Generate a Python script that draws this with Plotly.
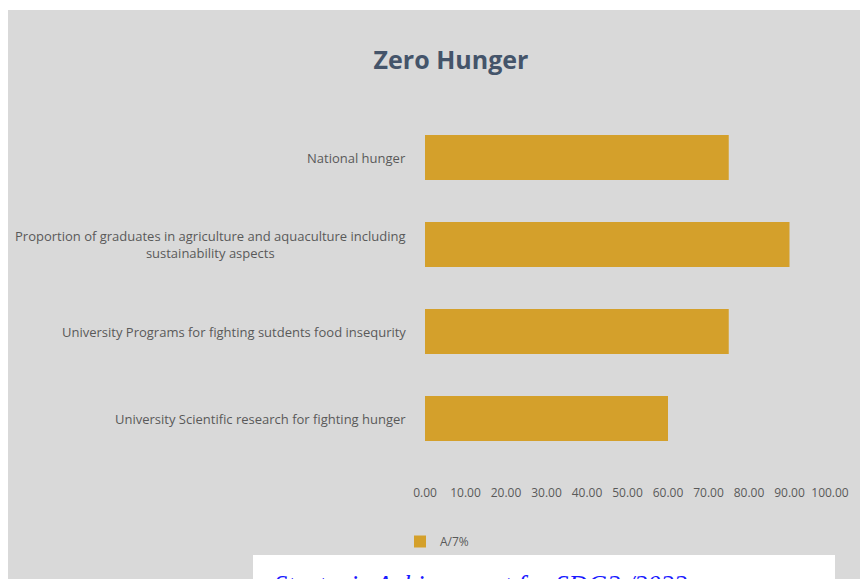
import plotly.graph_objects as go

categories = [
    "National hunger",
    "Proportion of graduates in agriculture and aquaculture including<br>sustainability aspects",
    "University Programs for fighting sutdents food insequrity",
    "University Scientific research for fighting hunger",
]
values = [75, 90, 75, 60]
series_name = "A/7%"
tick_vals = [0, 10, 20, 30, 40, 50, 60, 70, 80, 90, 100]

W, H = 860, 579
ML, MR, MT, MB = 425, 30, 114, 117
PW, PH = W - ML - MR, H - MT - MB

FONT = "Open Sans, sans-serif"
GOLD = "#D4A02B"
TXT = "#595959"

fig = go.Figure()
fig.add_trace(go.Bar(
    y=categories, x=values, orientation="h", name=series_name,
    marker=dict(color=GOLD, line=dict(width=0)), width=0.52,
    showlegend=True,
))

def px_x(px):
    return (px - ML) / PW

def px_y(py):
    return (H - MB - py) / PH

shapes = [
    dict(type="rect", xref="paper", yref="paper", x0=px_x(8), x1=px_x(W + 5),
         y0=px_y(H + 5), y1=px_y(10), fillcolor="#d9d9d9", line=dict(width=0), layer="below"),
    dict(type="rect", xref="paper", yref="paper", x0=px_x(253), x1=px_x(835),
         y0=px_y(H + 5), y1=px_y(555), fillcolor="white", line=dict(width=0), layer="above"),
]

annotations = []
for c in categories:
    annotations.append(dict(
        x=-17 / PW, xref="paper", y=c, yref="y", text=c, showarrow=False,
        xanchor="right", yanchor="middle", align="center",
        font=dict(family=FONT, size=13, color=TXT),
    ))
annotations.append(dict(
    x=px_x(272), xref="paper", y=px_y(568), yref="paper",
    text="<i>Strategic Achievement for SDG2 /2022</i>", showarrow=False,
    xanchor="left", yanchor="top",
    font=dict(family="Liberation Serif, Times New Roman, serif", size=26.5, color="#1a1aff"),
))

fig.update_layout(
    width=W, height=H,
    margin=dict(l=ML, r=MR, t=MT, b=MB),
    paper_bgcolor="white", plot_bgcolor="rgba(0,0,0,0)",
    title=dict(text="<b>Zero Hunger</b>", x=451 / W, xanchor="center",
               y=1 - 60 / H, yanchor="middle",
               font=dict(family=FONT, size=25, color="#44546A")),
    xaxis=dict(range=[0, 100], tickvals=tick_vals, tickformat=".2f",
               showgrid=False, zeroline=False, showline=False, ticks="",
               tickfont=dict(family=FONT, size=12, color=TXT), ticklabelstandoff=22),
    yaxis=dict(autorange="reversed", showticklabels=False, showgrid=False,
               zeroline=False, showline=False, ticks=""),
    legend=dict(orientation="h", x=px_x(400), xanchor="left", y=px_y(527), yanchor="top",
                bgcolor="rgba(0,0,0,0)", font=dict(family=FONT, size=12, color=TXT),
                itemwidth=30),
    bargap=0.48,
    shapes=shapes,
    annotations=annotations,
)

fig.write_html("out.html", config={"displayModeBar": False},
               post_script="document.body.style.margin='0px';")
